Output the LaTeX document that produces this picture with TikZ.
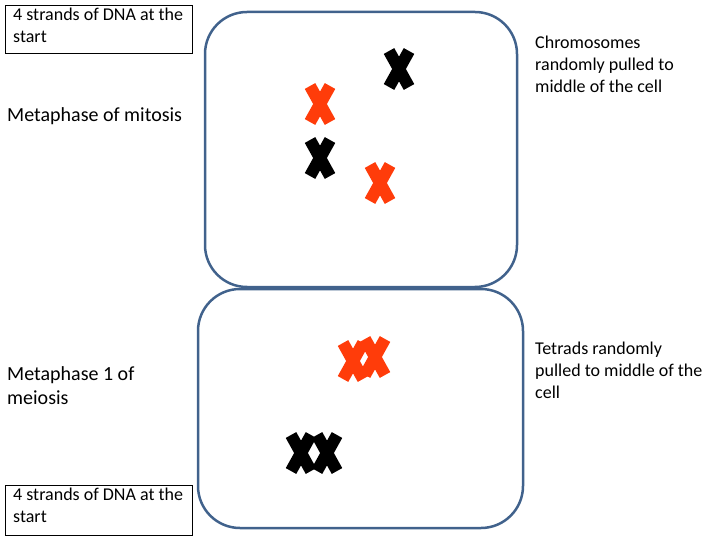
\documentclass[tikz,border=0pt]{standalone}
\usepackage{fontspec}
\setmainfont{Carlito}
\definecolor{cellc}{RGB}{65,98,140}
\definecolor{redc}{RGB}{255,60,10}
\tikzset{
  cell/.style={draw=cellc,line width=2.5pt,rounded corners=42pt},
  lbl/.style={anchor=north west,align=left,font=\fontsize{20}{24}\selectfont,inner sep=2pt},
  sm/.style={anchor=north west,align=left,font=\fontsize{18}{22}\selectfont,inner sep=2pt},
  box/.style={draw,line width=0.8pt,anchor=north west,inner sep=0pt},
  pics/chromo/.style={code={
    \draw[line width=12pt,#1] (-10,-18) -- (10,18);
    \draw[line width=12pt,#1] (10,-18) -- (-10,18);
  }}
}
\begin{document}
\begin{tikzpicture}[x=1pt,y=-1pt]
\useasboundingbox (0,0) rectangle (720,540);
\draw[cell] (205,12) rectangle (517,287);
\draw[cell] (198,289) rectangle (523,528);
\node[box,minimum width=187pt,minimum height=48pt] (b1) at (5,5) {};
\node[box,minimum width=187pt,minimum height=50pt] (b2) at (5,485) {};
\node[sm] (t1) at (11,6) {4 strands of DNA at the\\start};
\node[sm] (t2) at (11,486) {4 strands of DNA at the\\start};
\node[lbl] (m1) at (5,105) {Metaphase of mitosis};
\node[lbl] (m2) at (5,364) {Metaphase 1 of\\meiosis};
\node[sm] (r1) at (533,34) {Chromosomes\\randomly pulled to\\middle of the cell};
\node[sm] (r2) at (533,340) {Tetrads randomly\\pulled to middle of the\\cell};
\pic at (399,69) {chromo=black};
\pic at (320,104) {chromo=redc};
\pic at (320,158) {chromo=black};
\pic at (380,183) {chromo=redc};
\pic at (353,361) {chromo=redc};
\pic at (375,357) {chromo=redc};
\pic at (301,453) {chromo=black};
\pic at (327,453) {chromo=black};
\end{tikzpicture}
\end{document}
